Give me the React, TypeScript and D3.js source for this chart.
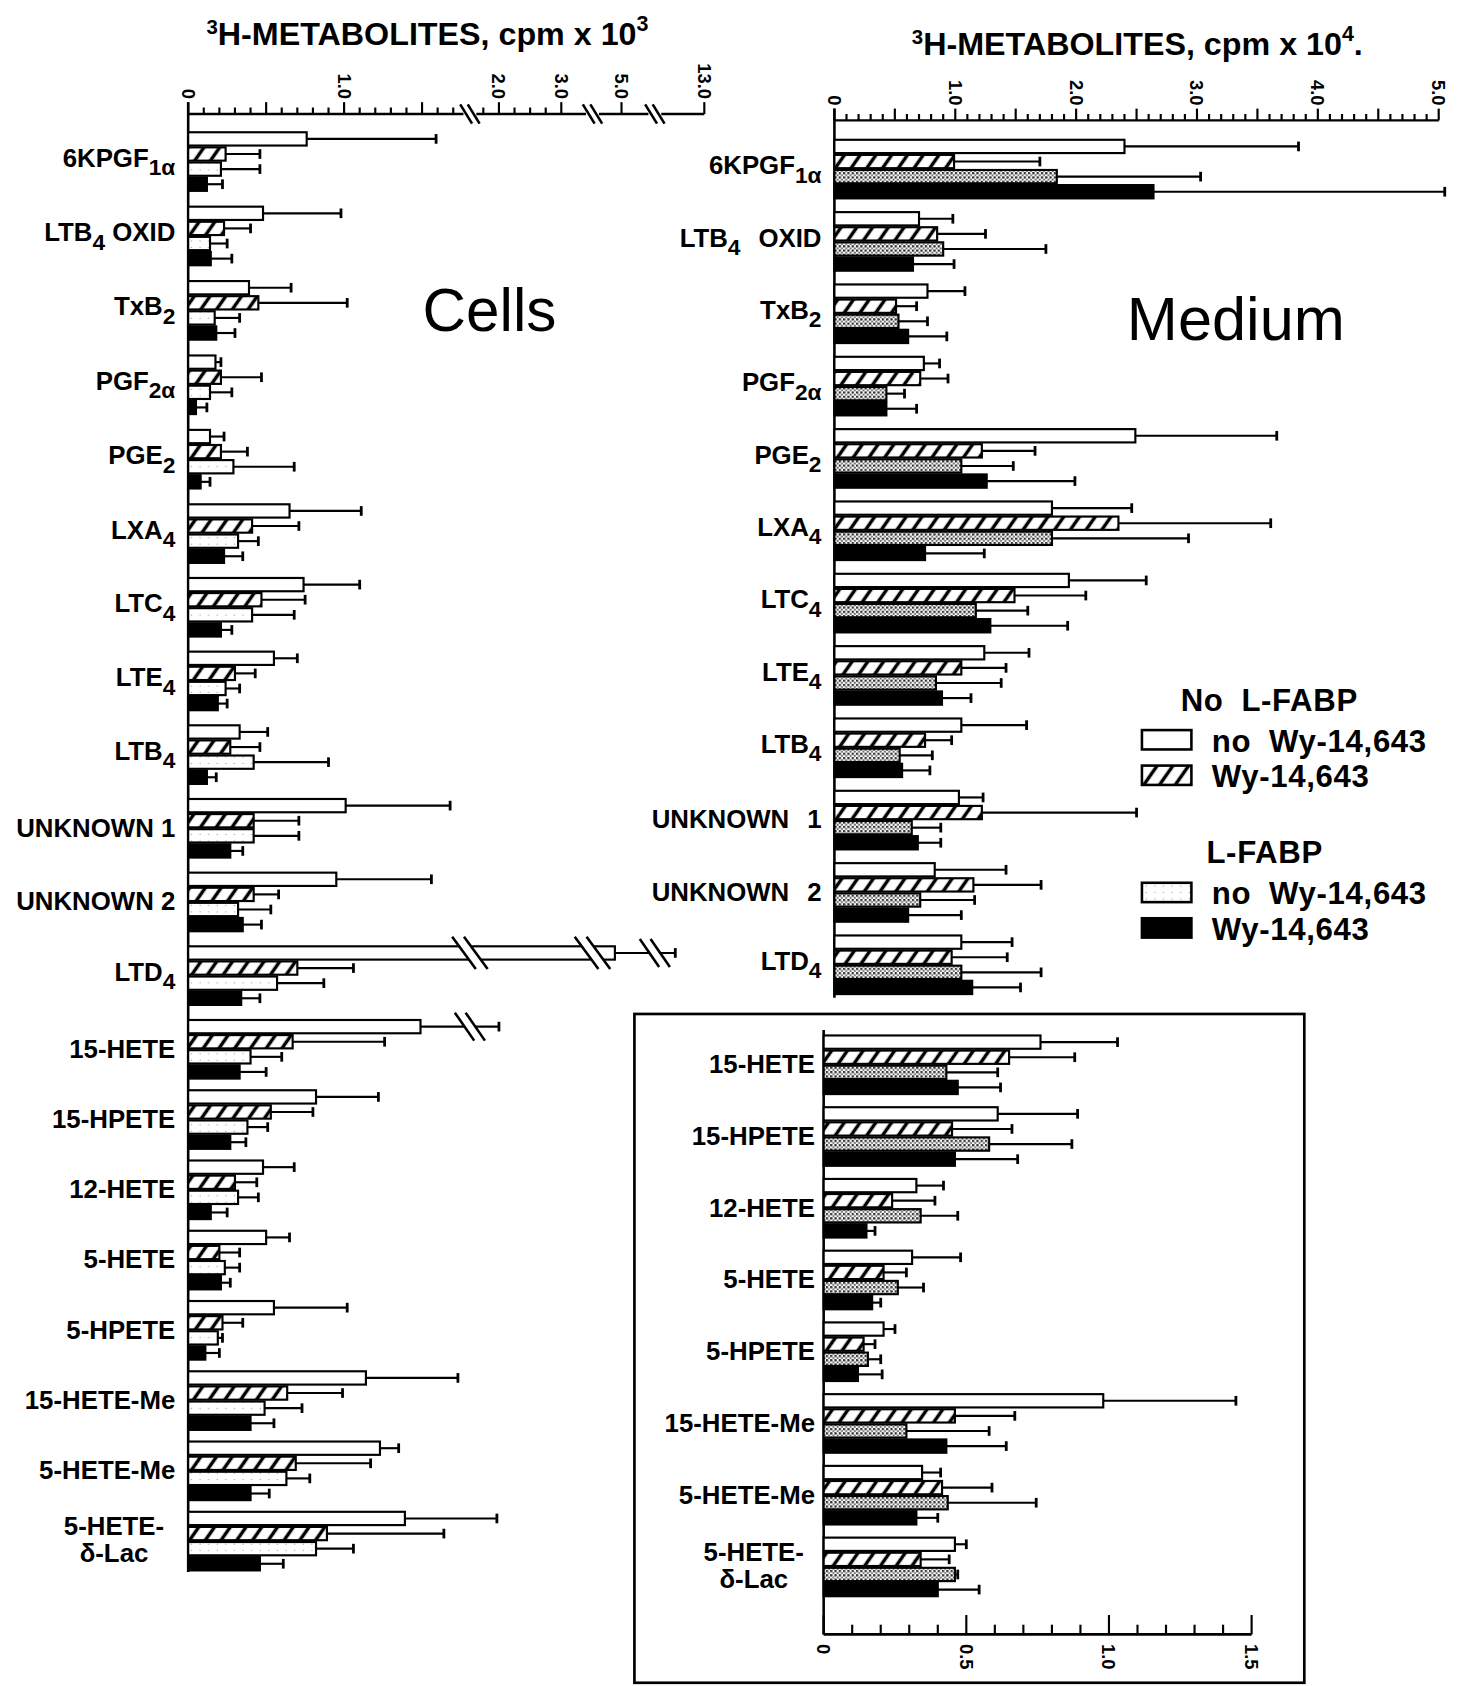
import React from "react";
import * as d3 from "d3";

// ---------- DATA ----------
const seriesNames = [
  "No L-FABP, no Wy-14,643",
  "No L-FABP, Wy-14,643",
  "L-FABP, no Wy-14,643",
  "L-FABP, Wy-14,643",
];

// Cells (cpm x 10^3)
const cellCategories = [
  "6KPGF1α", "LTB4 OXID", "TxB2", "PGF2α", "PGE2", "LXA4", "LTC4", "LTE4", "LTB4",
  "UNKNOWN 1", "UNKNOWN 2", "LTD4", "15-HETE", "15-HPETE", "12-HETE", "5-HETE",
  "5-HPETE", "15-HETE-Me", "5-HETE-Me", "5-HETE-δ-Lac",
];
const cellNoFabpNoWy = [0.76, 0.48, 0.39, 0.175, 0.14, 0.65, 0.74, 0.55, 0.33, 1.01, 0.95, 4.72, 1.49, 0.82, 0.48, 0.5, 0.55, 1.14, 1.23, 1.39];
const cellNoFabpNoWyErr = [1.59, 0.98, 0.66, 0.21, 0.23, 1.11, 1.1, 0.7, 0.51, 1.68, 1.56, 8.85, 2.0, 1.22, 0.68, 0.65, 1.02, 1.73, 1.35, 1.98];
const cellNoFabpWy = [0.24, 0.23, 0.45, 0.21, 0.21, 0.41, 0.47, 0.3, 0.27, 0.42, 0.42, 0.7, 0.67, 0.53, 0.3, 0.2, 0.22, 0.635, 0.69, 0.89];
const cellNoFabpWyErr = [0.46, 0.4, 1.02, 0.47, 0.38, 0.71, 0.75, 0.43, 0.46, 0.71, 0.58, 1.06, 1.26, 0.8, 0.44, 0.33, 0.35, 0.99, 1.17, 1.64];
const cellFabpNoWy = [0.21, 0.14, 0.17, 0.14, 0.29, 0.32, 0.41, 0.24, 0.42, 0.42, 0.32, 0.57, 0.4, 0.38, 0.32, 0.235, 0.19, 0.49, 0.63, 0.82];
const cellFabpNoWyErr = [0.46, 0.25, 0.33, 0.28, 0.68, 0.45, 0.68, 0.33, 0.9, 0.71, 0.53, 0.87, 0.6, 0.51, 0.45, 0.33, 0.22, 0.73, 0.78, 1.06];
const cellFabpWy = [0.12, 0.145, 0.18, 0.05, 0.08, 0.23, 0.21, 0.19, 0.12, 0.27, 0.35, 0.34, 0.33, 0.27, 0.145, 0.21, 0.11, 0.4, 0.4, 0.46];
const cellFabpWyErr = [0.22, 0.28, 0.3, 0.12, 0.14, 0.35, 0.28, 0.25, 0.18, 0.35, 0.47, 0.46, 0.5, 0.37, 0.25, 0.27, 0.2, 0.55, 0.52, 0.61];
const cellBrokenCategories = ["LTD4", "15-HETE"];

const cellTickValues = [0, 0.1, 0.2, 0.3, 0.4, 0.5, 0.6, 0.7, 0.8, 0.9, 1.0, 1.1, 1.2, 1.3, 1.4, 1.5, 1.6, 1.7, 1.75, 2.0, 2.25, 2.5, 2.75, 3.0, 5.0, 13.0];
const cellTickMajor = [0, 0.5, 1.0, 1.5, 2.0, 3.0, 5.0, 13.0];
const cellTickLabels = ["0", "1.0", "2.0", "3.0", "5.0", "13.0"];
const cellTickLabelValues = [0, 1.0, 2.0, 3.0, 5.0, 13.0];

// Medium (cpm x 10^4)
const mediumCategories = [
  "6KPGF1α", "LTB4 OXID", "TxB2", "PGF2α", "PGE2", "LXA4", "LTC4", "LTE4", "LTB4",
  "UNKNOWN 1", "UNKNOWN 2", "LTD4",
];
const medNoFabpNoWy = [2.4, 0.7, 0.77, 0.74, 2.49, 1.8, 1.94, 1.24, 1.05, 1.03, 0.83, 1.05];
const medNoFabpNoWyErr = [3.84, 0.98, 1.08, 0.87, 3.66, 2.46, 2.58, 1.61, 1.59, 1.23, 1.42, 1.47];
const medNoFabpWy = [0.99, 0.85, 0.51, 0.71, 1.22, 2.35, 1.49, 1.05, 0.75, 1.22, 1.15, 0.97];
const medNoFabpWyErr = [1.7, 1.25, 0.68, 0.94, 1.66, 3.61, 2.08, 1.42, 0.97, 2.5, 1.71, 1.43];
const medFabpNoWy = [1.84, 0.9, 0.53, 0.43, 1.05, 1.8, 1.17, 0.84, 0.54, 0.64, 0.71, 1.05];
const medFabpNoWyErr = [3.03, 1.75, 0.77, 0.58, 1.48, 2.93, 1.6, 1.38, 0.81, 0.88, 1.16, 1.71];
const medFabpWy = [2.64, 0.65, 0.61, 0.43, 1.26, 0.75, 1.29, 0.89, 0.56, 0.69, 0.61, 1.14];
const medFabpWyErr = [5.05, 0.99, 0.93, 0.68, 1.99, 1.24, 1.93, 1.13, 0.79, 0.88, 1.05, 1.54];
const mediumTickLabels = ["0", "1.0", "2.0", "3.0", "4.0", "5.0"];

// Medium inset (cpm x 10^4)
const insetCategories = ["15-HETE", "15-HPETE", "12-HETE", "5-HETE", "5-HPETE", "15-HETE-Me", "5-HETE-Me", "5-HETE-δ-Lac"];
const insetNoFabpNoWy = [0.76, 0.61, 0.325, 0.31, 0.21, 0.98, 0.345, 0.46];
const insetNoFabpNoWyErr = [1.03, 0.89, 0.42, 0.48, 0.25, 1.445, 0.41, 0.5];
const insetNoFabpWy = [0.65, 0.45, 0.24, 0.21, 0.14, 0.46, 0.415, 0.34];
const insetNoFabpWyErr = [0.88, 0.66, 0.39, 0.29, 0.18, 0.67, 0.59, 0.44];
const insetFabpNoWy = [0.43, 0.58, 0.34, 0.26, 0.155, 0.29, 0.435, 0.46];
const insetFabpNoWyErr = [0.61, 0.87, 0.47, 0.35, 0.2, 0.58, 0.745, 0.47];
const insetFabpWy = [0.47, 0.46, 0.15, 0.17, 0.12, 0.43, 0.325, 0.4];
const insetFabpWyErr = [0.62, 0.68, 0.18, 0.2, 0.205, 0.64, 0.4, 0.545];
const insetTickLabels = ["0", "0.5", "1.0", "1.5"];

const legendGroups = ["No L-FABP", "L-FABP"];
const legendItems = ["no Wy-14,643", "Wy-14,643"];

// ---------- LAYOUT ----------
const VW = 1355;
const VH = 1568;
const FONT = "'Liberation Sans', Arial, Helvetica, sans-serif";
const LABEL_FS = 24;

const leftAxisY = 106;
const rightAxisY = 112;
const insetAxisY = 1520;
const leftBreaks = [437, 551, 609];

const leftBroken = d3
  .scaleLinear()
  .domain([0, 1.74, 1.75, 3.45, 3.8, 6.3, 6.5, 13])
  .range([175, 427.3, 449.5, 548.1, 551.6, 606.6, 612.75, 655]);
const leftLinear = d3.scaleLinear().domain([0, 1]).range([175, 320]);
const rightScale = d3.scaleLinear().domain([0, 5]).range([776, 1338]);
const insetScale = d3.scaleLinear().domain([0, 1.5]).range([766, 1164]);

const leftTop = d3.scaleLinear().domain([0, 5, 12, 19]).range([123, 469, 948.6, 1406]);
const rightTop = d3.scaleLinear().domain([0, 11]).range([130, 870]);
const insetTop = d3.scaleLinear().domain([0, 7]).range([963, 1430]);
const inner = d3.scaleBand<number>().domain([0, 1, 2, 3]).range([0, 54.5]).paddingInner(0.12);

function breakMark(key: string, x: number, y: number, h: number, w: number, s: number, fill = true) {
  const p = [
    [x - s / 2 - w / 2, y - h],
    [x + s / 2 - w / 2, y - h],
    [x + s / 2 + w / 2, y + h],
    [x - s / 2 + w / 2, y + h],
  ];
  return (
    <g key={key}>
      {fill && <polygon points={p.map((q) => q.join(",")).join(" ")} fill="#fff" />}
      <line x1={p[0][0]} y1={p[0][1]} x2={p[3][0]} y2={p[3][1]} stroke="#000" strokeWidth={2.4} />
      <line x1={p[1][0]} y1={p[1][1]} x2={p[2][0]} y2={p[2][1]} stroke="#000" strokeWidth={2.4} />
    </g>
  );
}

function CatLabel({ name, xr, cy, fs = LABEL_FS, wordSpacing = 0 }: any) {
  const common = { fontFamily: FONT, fontWeight: 700, fontSize: fs, fill: "#000" };
  if (name.includes("δ")) {
    const idx = name.indexOf("-δ");
    const a = name.slice(0, idx + 1);
    const b = name.slice(idx + 1);
    return (
      <text {...common} textAnchor="middle">
        <tspan x={xr - 57} y={cy - 5}>{a}</tspan>
        <tspan x={xr - 57} y={cy + 20}>{b}</tspan>
      </text>
    );
  }
  const m = name.match(/^(.*[A-Z])(\d+α?)(.*)$/);
  if (m) {
    return (
      <text {...common} x={xr} y={cy + 5} textAnchor="end" style={{ wordSpacing }}>
        {m[1]}
        <tspan dy={8} fontSize={fs * 0.88}>{m[2]}</tspan>
        {m[3] ? <tspan dy={-8}>{m[3]}</tspan> : null}
      </text>
    );
  }
  return (
    <text {...common} x={xr} y={cy + 8} textAnchor="end" style={{ wordSpacing }}>
      {name}
    </text>
  );
}

function Bars({ cats, vals, errs, top, scaleFor, fills, breaks, labelX, labelWordSpacing }: any) {
  const rects: any[] = [];
  const marks: any[] = [];
  const labels: any[] = [];
  cats.forEach((c: string, i: number) => {
    const sc = scaleFor(c);
    const broken = breaks && cellBrokenCategories.includes(c);
    const gTop = top(i);
    labels.push(<CatLabel key={"l" + i} name={c} xr={labelX} cy={gTop + 27} wordSpacing={labelWordSpacing} />);
    for (let s = 0; s < 4; s++) {
      const v = vals[s][i];
      const e = errs[s][i];
      const y = gTop + (inner(s) as number);
      const h = inner.bandwidth();
      const cy = y + h / 2;
      const xa = sc(0);
      const xb = sc(v);
      const xe = sc(e);
      rects.push(
        <rect key={`b${i}-${s}`} x={xa} y={y} width={Math.max(0, xb - xa)} height={h} fill={fills[s]} stroke="#000" strokeWidth={2} />
      );
      if (e > v) {
        rects.push(<line key={`e${i}-${s}`} x1={xb} x2={xe} y1={cy} y2={cy} stroke="#000" strokeWidth={2} />);
        rects.push(<line key={`c${i}-${s}`} x1={xe} x2={xe} y1={cy - 4.5} y2={cy + 4.5} stroke="#000" strokeWidth={2.6} />);
      }
      if (broken) {
        breaks.forEach((bx: number, k: number) => {
          if (bx > xa + 5 && bx < xb - 5) marks.push(breakMark(`m${i}-${s}-${k}`, bx, cy, 15, 22, 11));
          else if (bx > xb + 5 && bx < xe - 5) marks.push(breakMark(`n${i}-${s}-${k}`, bx, cy, 13, 18, 10));
        });
      }
    }
  });
  return (
    <g>
      {rects}
      {marks}
      {labels}
    </g>
  );
}

function TopAxis({ ticks, majors, scale, y, labels, labelValues, x0, x1, gaps }: any) {
  const segs: any[] = [];
  let start = x0;
  (gaps || []).forEach((g: number, k: number) => {
    segs.push(<line key={"s" + k} x1={start} x2={g - 6} y1={y} y2={y} stroke="#000" strokeWidth={2.2} />);
    start = g + 6;
  });
  segs.push(<line key="sl" x1={start} x2={x1} y1={y} y2={y} stroke="#000" strokeWidth={2.2} />);
  return (
    <g>
      {segs}
      {(gaps || []).map((g: number, k: number) => breakMark("ab" + k, g, y, 9, 11, 7, false))}
      {ticks.map((t: number, k: number) => {
        const x = scale(t);
        const major = majors.some((m: number) => Math.abs(m - t) < 1e-6);
        return <line key={"t" + k} x1={x} x2={x} y1={y} y2={y - (major ? 11 : 6)} stroke="#000" strokeWidth={2} />;
      })}
      {labels.map((lab: string, k: number) => {
        const x = scale(labelValues[k]);
        return (
          <text
            key={"tl" + k}
            transform={`translate(${x},${y - 14}) rotate(90)`}
            textAnchor="end"
            dy="0.36em"
            fontFamily={FONT}
            fontWeight={700}
            fontSize={17}
          >
            {lab}
          </text>
        );
      })}
    </g>
  );
}

function Title({ x, y, exp, text, tail }: any) {
  return (
    <text x={x} y={y} fontFamily={FONT} fontWeight={700} fontSize={30} fill="#000">
      <tspan fontSize={19} dy={-10}>3</tspan>
      <tspan dy={10}>{text}</tspan>
      <tspan fontSize={20} dy={-13}>{exp}</tspan>
      {tail ? <tspan dy={13}>{tail}</tspan> : null}
    </text>
  );
}

export default function App() {
  const leftFills = ["#fff", "url(#hatch)", "url(#dotsLight)", "#000"];
  const rightFills = ["#fff", "url(#hatch)", "url(#dotsDense)", "#000"];

  const cellVals = [cellNoFabpNoWy, cellNoFabpWy, cellFabpNoWy, cellFabpWy];
  const cellErrs = [cellNoFabpNoWyErr, cellNoFabpWyErr, cellFabpNoWyErr, cellFabpWyErr];
  const medVals = [medNoFabpNoWy, medNoFabpWy, medFabpNoWy, medFabpWy];
  const medErrs = [medNoFabpNoWyErr, medNoFabpWyErr, medFabpNoWyErr, medFabpWyErr];
  const insVals = [insetNoFabpNoWy, insetNoFabpWy, insetFabpNoWy, insetFabpWy];
  const insErrs = [insetNoFabpNoWyErr, insetNoFabpWyErr, insetFabpNoWyErr, insetFabpWyErr];

  const rightTicks = d3.range(0, 51).map((k) => k / 10);
  const rightMajors = d3.range(0, 11).map((k) => k / 2);
  const insetTicks = d3.range(0, 16).map((k) => k / 10);

  const legendRows = [
    { group: 0, x: 1098, y: 661, boxes: [{ y: 679, fill: "#fff", label: 0 }, { y: 712, fill: "url(#hatch)", label: 1 }] },
    { group: 1, x: 1122, y: 803, boxes: [{ y: 821, fill: "url(#dotsLight)", label: 0 }, { y: 854, fill: "#000", label: 1 }] },
  ];

  return (
    <div style={{ position: "absolute", left: 0, top: 0, width: 1457, height: 1686, background: "#fff" }}>
      <svg width={1457} height={1686} viewBox={`0 0 ${VW} ${VH}`} style={{ display: "block" }}>
        <defs>
          <pattern id="hatch" width={12} height={12} patternUnits="userSpaceOnUse" patternTransform="rotate(35)">
            <rect width={12} height={12} fill="#fff" />
            <line x1={6} y1={-1} x2={6} y2={13} stroke="#000" strokeWidth={3.2} />
          </pattern>
          <pattern id="dotsLight" width={8} height={6} patternUnits="userSpaceOnUse">
            <rect width={8} height={6} fill="#fff" />
            <circle cx={2} cy={2} r={0.6} fill="#888" />
          </pattern>
          <pattern id="dotsDense" width={4} height={4} patternUnits="userSpaceOnUse">
            <rect width={4} height={4} fill="#fff" />
            <circle cx={1} cy={1} r={1.2} fill="#333" />
            <circle cx={3} cy={3} r={1.0} fill="#666" />
          </pattern>
        </defs>
        <rect width={VW} height={VH} fill="#fff" />

        {/* ---------- Cells panel ---------- */}
        <Title x={192} y={42} exp="3" text="H-METABOLITES, cpm  x 10" />
        <TopAxis
          ticks={cellTickValues}
          majors={cellTickMajor}
          scale={leftBroken}
          y={leftAxisY}
          labels={cellTickLabels}
          labelValues={cellTickLabelValues}
          x0={175}
          x1={655}
          gaps={leftBreaks}
        />
        <line x1={175} x2={175} y1={leftAxisY - 11} y2={1462} stroke="#000" strokeWidth={2.4} />
        <Bars
          cats={cellCategories}
          vals={cellVals}
          errs={cellErrs}
          top={leftTop}
          scaleFor={(c: string) => (cellBrokenCategories.includes(c) ? leftBroken : leftLinear)}
          fills={leftFills}
          breaks={leftBreaks}
          labelX={163}
          labelWordSpacing={0}
        />
        <text x={393} y={308} fontFamily={FONT} fontSize={56}>Cells</text>

        {/* ---------- Medium panel ---------- */}
        <Title x={848} y={51} exp="4" text="H-METABOLITES,  cpm x 10" tail="." />
        <TopAxis
          ticks={rightTicks}
          majors={rightMajors}
          scale={rightScale}
          y={rightAxisY}
          labels={mediumTickLabels}
          labelValues={[0, 1, 2, 3, 4, 5]}
          x0={776}
          x1={1338}
          gaps={[]}
        />
        <line x1={776} x2={776} y1={rightAxisY - 11} y2={928} stroke="#000" strokeWidth={2.4} />
        <Bars
          cats={mediumCategories}
          vals={medVals}
          errs={medErrs}
          top={rightTop}
          scaleFor={() => rightScale}
          fills={rightFills}
          breaks={null}
          labelX={764}
          labelWordSpacing={10}
        />
        <text x={1048} y={316} fontFamily={FONT} fontSize={57}>Medium</text>

        {/* legend */}
        {legendRows.map((r, gi) => (
          <g key={"lg" + gi}>
            <text x={r.x} y={r.y} fontFamily={FONT} fontWeight={700} fontSize={29} letterSpacing={0.6} style={{ wordSpacing: 8 }}>
              {legendGroups[r.group]}
            </text>
            {r.boxes.map((b, bi) => (
              <g key={"lb" + bi}>
                <rect x={1062} y={b.y} width={46} height={18} fill={b.fill} stroke="#000" strokeWidth={2.4} />
                <text
                  x={1127}
                  y={b.y + 20}
                  fontFamily={FONT}
                  fontWeight={700}
                  fontSize={29}
                  letterSpacing={0.6}
                  style={{ wordSpacing: 8 }}
                >
                  {legendItems[b.label]}
                </text>
              </g>
            ))}
          </g>
        ))}

        {/* ---------- Inset ---------- */}
        <rect x={590} y={943} width={623} height={622} fill="none" stroke="#000" strokeWidth={2.5} />
        <line x1={766} x2={766} y1={958} y2={insetAxisY} stroke="#000" strokeWidth={2.4} />
        <line x1={766} x2={1164} y1={insetAxisY} y2={insetAxisY} stroke="#000" strokeWidth={2.4} />
        {insetTicks.map((t, k) => {
          const x = insetScale(t);
          const major = Math.abs(t * 2 - Math.round(t * 2)) < 1e-6;
          return <line key={"it" + k} x1={x} x2={x} y1={insetAxisY} y2={insetAxisY - (major ? 18 : 9)} stroke="#000" strokeWidth={2} />;
        })}
        {insetTickLabels.map((lab, k) => (
          <text
            key={"itl" + k}
            transform={`translate(${insetScale(k * 0.5)},${insetAxisY + 9}) rotate(90)`}
            textAnchor="start"
            dy="0.36em"
            fontFamily={FONT}
            fontWeight={700}
            fontSize={17}
          >
            {lab}
          </text>
        ))}
        <Bars
          cats={insetCategories}
          vals={insVals}
          errs={insErrs}
          top={insetTop}
          scaleFor={() => insetScale}
          fills={rightFills}
          breaks={null}
          labelX={758}
          labelWordSpacing={0}
        />
      </svg>
    </div>
  );
}
